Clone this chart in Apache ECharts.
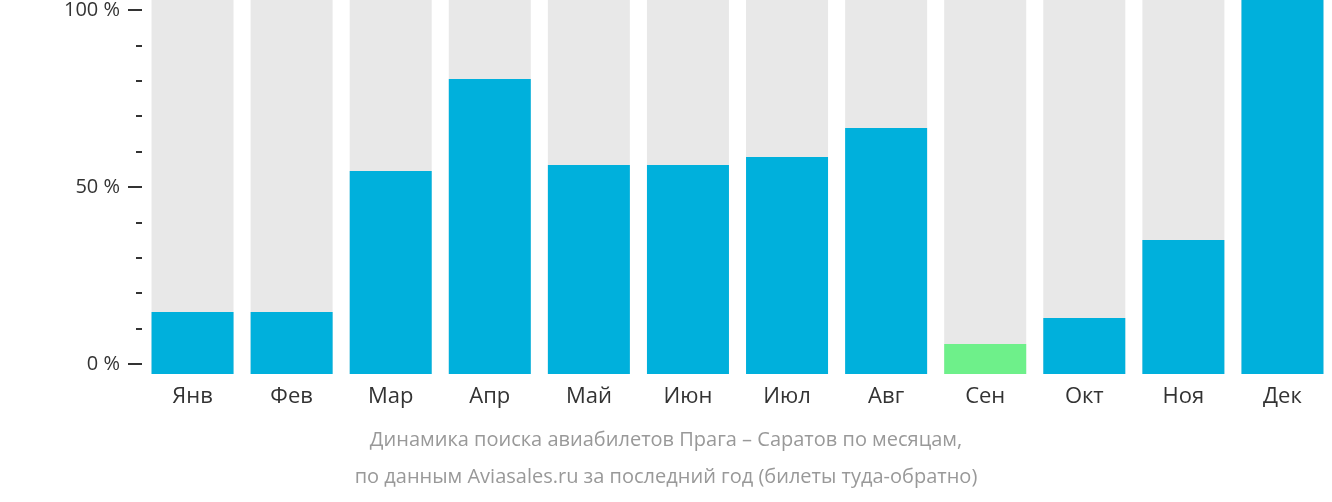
<!DOCTYPE html>
<html>
<head>
<meta charset="utf-8">
<script src="https://cdn.jsdelivr.net/npm/echarts@6/dist/echarts.min.js"></script>
<style>html,body{margin:0;padding:0;background:#fff}#chart{width:1332px;height:502px}</style>
</head>
<body>
<div id="chart"></div>
<script>
const months = ['Янв', 'Фев', 'Мар', 'Апр', 'Май', 'Июн', 'Июл', 'Авг', 'Сен', 'Окт', 'Ноя', 'Дек'];
const values = [16.6, 16.6, 54.3, 78.9, 55.9, 55.9, 58.0, 65.8, 8.0, 15.0, 35.8, 100];
const lowestMonth = 'Сен';
const yTicks = [0, 50, 100];

const font = '"Open Sans", sans-serif';
const chart = echarts.init(document.getElementById('chart'));

chart.setOption({
  animation: false,
  grid: [
    { left: 143, top: 0, width: 1200, height: 374 },
    { left: 142, top: 8, width: 1, height: 356 },
  ],
  xAxis: [
    {
      type: 'category', data: months, gridIndex: 0,
      axisLine: { show: false }, axisTick: { show: false },
      axisLabel: { color: '#333', fontSize: 22, fontFamily: font, margin: 12 },
    },
    { type: 'value', gridIndex: 1, show: false },
  ],
  yAxis: [
    { type: 'value', gridIndex: 0, min: 0, max: 100, show: false },
    {
      type: 'value', gridIndex: 1, min: 0, max: 100, interval: 50,
      axisLine: { show: false }, splitLine: { show: false },
      axisTick: { show: true, length: 14, lineStyle: { color: '#333', width: 2 } },
      minorTick: { show: true, splitNumber: 5, length: 6, lineStyle: { color: '#333', width: 2 } },
      axisLabel: {
        color: '#333', fontSize: 20, fontFamily: font, margin: 22,
        formatter: (v) => (yTicks.includes(v) ? v + ' %' : ''),
      },
    },
  ],
  series: [
    {
      type: 'bar', xAxisIndex: 0, yAxisIndex: 0, barWidth: 82,
      showBackground: true, backgroundStyle: { color: '#e8e8e8' },
      data: values.map((v, i) => ({
        value: v,
        itemStyle: { color: months[i] === lowestMonth ? '#6ef08a' : '#00b0dc' },
      })),
    },
  ],
  graphic: [
    { type: 'text', left: 'center', top: 430, x: 40,
      style: { text: 'Динамика поиска авиабилетов Прага – Саратов по месяцам,', fill: '#999', font: '20px ' + font } },
    { type: 'text', left: 'center', top: 467,
      style: { text: 'по данным Aviasales.ru за последний год (билеты туда-обратно)', fill: '#999', font: '20px ' + font } },
  ],
});
</script>
</body>
</html>
